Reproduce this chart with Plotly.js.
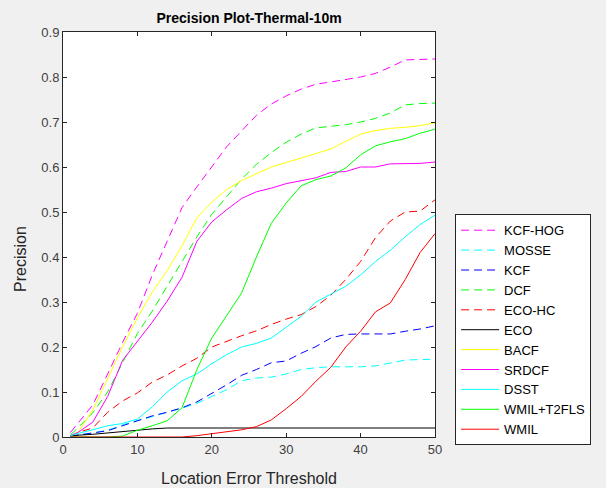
<!DOCTYPE html>
<html>
<head>
<meta charset="utf-8">
<script src="https://cdn.plot.ly/plotly-3.0.1.min.js"></script>
<style>html,body{margin:0;padding:0;background:#f0f0f0;}#chart{width:606px;height:488px;}</style>
</head>
<body>
<div id="chart"></div>
<script>
const thresholds = [1,2,4,6,8,10,12,14,16,18,20,22,24,26,28,30,32,34,36,38,40,42,44,46,48,50];

const kcfHog  = [0.01,0.03,0.071,0.14,0.21,0.275,0.36,0.435,0.51,0.556,0.60,0.645,0.68,0.715,0.74,0.758,0.773,0.784,0.789,0.794,0.80,0.808,0.822,0.838,0.839,0.84];
const mosse   = [0.002,0.004,0.009,0.015,0.027,0.037,0.045,0.055,0.064,0.075,0.09,0.105,0.125,0.131,0.133,0.14,0.15,0.154,0.156,0.156,0.156,0.158,0.165,0.171,0.172,0.173];
const kcf     = [0.002,0.004,0.009,0.014,0.025,0.037,0.047,0.055,0.065,0.078,0.097,0.116,0.137,0.15,0.165,0.169,0.186,0.201,0.22,0.228,0.229,0.229,0.229,0.235,0.24,0.247];
const dcf     = [0.005,0.02,0.054,0.10,0.165,0.23,0.28,0.335,0.39,0.445,0.495,0.535,0.573,0.606,0.632,0.655,0.673,0.687,0.691,0.694,0.70,0.708,0.72,0.738,0.741,0.742];
const ecoHc   = [0.003,0.01,0.02,0.055,0.08,0.098,0.122,0.138,0.158,0.175,0.20,0.213,0.225,0.236,0.25,0.262,0.272,0.29,0.315,0.35,0.39,0.443,0.48,0.50,0.502,0.527];
const eco     = [0.002,0.004,0.006,0.009,0.012,0.016,0.018,0.02,0.02,0.02,0.02,0.02,0.02,0.02,0.02,0.02,0.02,0.02,0.02,0.02,0.02,0.02,0.02,0.02,0.02,0.02];
const bacf    = [0.003,0.01,0.06,0.13,0.20,0.265,0.322,0.37,0.425,0.487,0.522,0.55,0.57,0.585,0.60,0.61,0.62,0.63,0.64,0.657,0.673,0.681,0.686,0.688,0.692,0.698];
const srdcf   = [0.003,0.01,0.033,0.09,0.17,0.212,0.255,0.302,0.355,0.435,0.478,0.505,0.53,0.545,0.553,0.563,0.57,0.576,0.588,0.59,0.60,0.60,0.607,0.607,0.608,0.611];
const dsst    = [0.003,0.008,0.016,0.025,0.03,0.04,0.067,0.10,0.125,0.14,0.163,0.183,0.20,0.208,0.22,0.245,0.268,0.30,0.318,0.335,0.36,0.39,0.415,0.445,0.472,0.493];
const wmilT2  = [0,0,0,0,0.002,0.015,0.025,0.036,0.065,0.15,0.22,0.27,0.32,0.40,0.475,0.52,0.558,0.572,0.58,0.598,0.627,0.647,0.656,0.663,0.675,0.684];
const wmil    = [0,0,0,0,0,0,0,0,0,0.003,0.007,0.011,0.016,0.023,0.038,0.063,0.09,0.124,0.155,0.20,0.235,0.278,0.298,0.35,0.41,0.452];

const names  = ['KCF-HOG','MOSSE','KCF','DCF','ECO-HC','ECO','BACF','SRDCF','DSST','WMIL+T2FLS','WMIL'];
const series = [kcfHog, mosse, kcf, dcf, ecoHc, eco, bacf, srdcf, dsst, wmilT2, wmil];
const colors = ['#ff00ff','#00ffff','#0000ff','#00ff00','#ff0000','#000000','#ffff00','#ff00ff','#00ffff','#00ff00','#ff0000'];
const dashes = ['8px,5px','8px,5px','8px,5px','8px,5px','8px,5px','solid','solid','solid','solid','solid','solid'];

const FONT = 'Liberation Sans, Arial, sans-serif';

const traces = names.map((n, i) => ({
  x: thresholds, y: series[i], name: n, type: 'scatter', mode: 'lines',
  line: {color: colors[i], width: 1, dash: dashes[i]}
}));

const axisCommon = {
  showline: true, mirror: 'allticks', linecolor: '#262626', linewidth: 1,
  ticks: 'inside', ticklen: 4, tickcolor: '#262626', showgrid: false, zeroline: false,
  tickfont: {family: FONT, size: 13, color: '#404040'}
};

const layout = {
  width: 606, height: 488,
  paper_bgcolor: '#f0f0f0', plot_bgcolor: '#ffffff',
  margin: {l: 63, r: 171, t: 32, b: 51},
  title: {text: '<b>Precision Plot-Thermal-10m</b>', x: 0.411, xanchor: 'center', y: 0.963, yanchor: 'middle',
          font: {family: FONT, size: 14, color: '#000000'}},
  xaxis: Object.assign({}, axisCommon, {range: [0, 50], tick0: 0, dtick: 10,
          title: {text: 'Location Error Threshold', standoff: 17, font: {family: FONT, size: 16, color: '#262626'}}}),
  yaxis: Object.assign({}, axisCommon, {range: [0, 0.9], tick0: 0, dtick: 0.1}),
  annotations: [{text: 'Precision', textangle: -90, xref: 'paper', yref: 'paper',
                 x: -0.1156, y: 0.4395, xanchor: 'center', yanchor: 'middle', showarrow: false,
                 font: {family: FONT, size: 16, color: '#262626'}}],
  showlegend: true,
  legend: {x: 1.054, xanchor: 'left', y: 0.55, yanchor: 'top', bgcolor: '#ffffff',
           bordercolor: '#262626', borderwidth: 1, tracegroupgap: 0, itemwidth: 38,
           font: {family: FONT, size: 13, color: '#000000'}}
};

Plotly.newPlot('chart', traces, layout, {displayModeBar: false, staticPlot: true});
</script>
</body>
</html>
